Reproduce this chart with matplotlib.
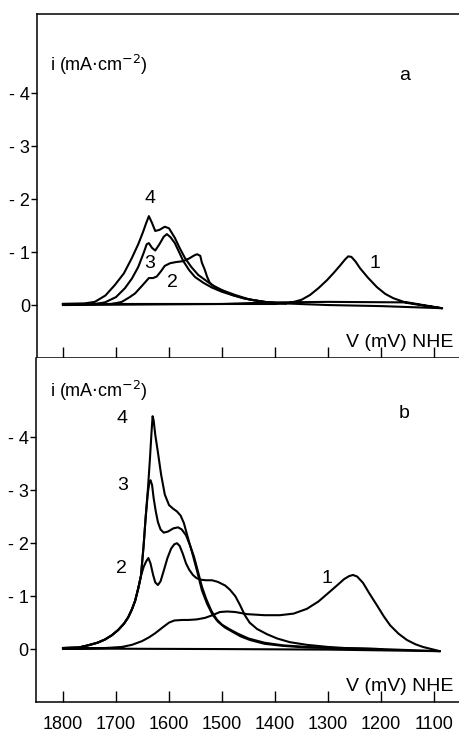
import matplotlib
matplotlib.use('Agg')
import matplotlib.pyplot as plt

# ---- panel a : current densities (mA/cm2, cathodic = negative) vs potential (mV NHE)
a1_v = [1800, 1600, 1400, 1372, 1350, 1334, 1318, 1302, 1290, 1277, 1268, 1262, 1256, 1248,
        1240, 1225, 1208, 1192, 1177, 1160, 1151, 1120, 1085,
        1150, 1300, 1400, 1500, 1800]
a1_i = [-0.02, -0.02, -0.02, -0.04, -0.10, -0.19, -0.32, -0.47, -0.60, -0.75, -0.86, -0.92, -0.91, -0.82,
        -0.70, -0.52, -0.34, -0.21, -0.13, -0.07, -0.04, 0.01, 0.06,
        -0.05, -0.06, -0.05, -0.02, 0.0]

a2_v = [1800, 1710, 1698, 1689, 1674, 1664, 1653, 1645, 1638, 1630, 1623, 1615, 1608, 1598,
        1588, 1573, 1562, 1552, 1547, 1541, 1538, 1533, 1528, 1523, 1515, 1500, 1475, 1450,
        1420, 1400, 1380, 1300, 1200, 1085]
a2_i = [-0.02, -0.02, -0.04, -0.06, -0.15, -0.22, -0.34, -0.43, -0.51, -0.51, -0.54, -0.64, -0.74, -0.79,
        -0.81, -0.83, -0.88, -0.94, -0.96, -0.93, -0.80, -0.68, -0.53, -0.42, -0.35, -0.28, -0.19, -0.11,
        -0.06, -0.04, -0.03, 0.0, 0.02, 0.06]

a3_v = [1800, 1740, 1721, 1700, 1683, 1670, 1658, 1648, 1642, 1638, 1632, 1626, 1618, 1610,
        1604, 1597, 1589, 1580, 1573, 1562, 1551, 1535, 1519, 1500, 1481, 1460, 1440, 1420,
        1400, 1380]
a3_i = [-0.02, -0.02, -0.05, -0.15, -0.32, -0.50, -0.72, -0.98, -1.15, -1.17, -1.08, -1.03, -1.15, -1.29,
        -1.34, -1.28, -1.17, -0.98, -0.83, -0.66, -0.53, -0.42, -0.33, -0.25, -0.19, -0.13, -0.09, -0.06,
        -0.04, -0.03]

a4_v = [1800, 1760, 1740, 1720, 1702, 1685, 1670, 1658, 1649, 1643, 1638, 1632, 1626, 1618,
        1608, 1600, 1589, 1580, 1570, 1558, 1545, 1530, 1519, 1500, 1481, 1460, 1440, 1420,
        1400, 1380]
a4_i = [-0.02, -0.03, -0.06, -0.18, -0.38, -0.60, -0.89, -1.15, -1.38, -1.55, -1.68, -1.55, -1.40, -1.42,
        -1.48, -1.45, -1.27, -1.08, -0.89, -0.72, -0.57, -0.46, -0.38, -0.28, -0.19, -0.13, -0.09, -0.06,
        -0.04, -0.03]

# ---- panel b
b1_v = [1800, 1720, 1689, 1670, 1651, 1638, 1626, 1612, 1600, 1590, 1575, 1564, 1548, 1532,
        1518, 1504, 1490, 1475, 1453, 1420, 1391, 1365, 1340, 1318, 1296, 1280, 1270, 1260,
        1253, 1245, 1234, 1222, 1208, 1195, 1183, 1167, 1151, 1135, 1121, 1105, 1089,
        1300, 1500, 1800]
b1_i = [-0.01, -0.02, -0.04, -0.08, -0.15, -0.22, -0.30, -0.41, -0.50, -0.54, -0.55, -0.55, -0.56, -0.59,
        -0.64, -0.70, -0.71, -0.70, -0.66, -0.64, -0.64, -0.67, -0.76, -0.90, -1.09, -1.23, -1.32, -1.38,
        -1.40, -1.37, -1.25, -1.05, -0.83, -0.62, -0.45, -0.29, -0.17, -0.09, -0.04, 0.0, 0.04,
        0.01, 0.0, -0.01]

b2_v = [1800, 1770, 1753, 1735, 1721, 1708, 1696, 1685, 1677, 1670, 1664, 1658, 1653, 1648,
        1643, 1639, 1635, 1630, 1626, 1621, 1616, 1610, 1603, 1596, 1590, 1585, 1580, 1574,
        1568, 1562, 1555, 1548, 1540, 1530, 1519, 1508, 1494, 1485, 1475, 1466, 1457, 1448,
        1434, 1415, 1396, 1372, 1340, 1300, 1253, 1200, 1089]
b2_i = [-0.02, -0.03, -0.07, -0.12, -0.18, -0.26, -0.36, -0.48, -0.60, -0.75, -0.91, -1.15, -1.38, -1.55,
        -1.66, -1.72, -1.62, -1.40, -1.26, -1.21, -1.28, -1.48, -1.72, -1.90, -1.98, -2.00, -1.95, -1.80,
        -1.62, -1.50, -1.40, -1.34, -1.31, -1.30, -1.30, -1.27, -1.20, -1.12, -1.00, -0.83, -0.64, -0.50,
        -0.38, -0.28, -0.20, -0.13, -0.08, -0.04, -0.01, 0.0, 0.04]

b3_v = [1800, 1770, 1753, 1735, 1721, 1708, 1696, 1685, 1677, 1670, 1664, 1658, 1653, 1648,
        1644, 1640, 1637, 1635, 1632, 1629, 1625, 1621, 1616, 1610, 1602, 1592, 1583, 1576,
        1568, 1560, 1553, 1545, 1538, 1530, 1520, 1510, 1500, 1485, 1470, 1450, 1420, 1385,
        1340, 1290, 1200]
b3_i = [-0.02, -0.03, -0.07, -0.12, -0.18, -0.26, -0.36, -0.48, -0.60, -0.75, -0.91, -1.15, -1.38, -1.95,
        -2.50, -2.95, -3.15, -3.19, -3.10, -2.85, -2.60, -2.40, -2.26, -2.20, -2.22, -2.28, -2.30, -2.26,
        -2.15, -1.95, -1.75, -1.45, -1.18, -0.95, -0.72, -0.56, -0.46, -0.37, -0.29, -0.20, -0.12, -0.07,
        -0.04, -0.02, 0.0]

b4_v = [1800, 1770, 1753, 1735, 1721, 1708, 1696, 1685, 1677, 1670, 1664, 1658, 1653, 1648,
        1644, 1640, 1636, 1633, 1631, 1629, 1626, 1621, 1615, 1608, 1600, 1592, 1585, 1578,
        1572, 1564, 1555, 1547, 1538, 1528, 1518, 1508, 1495, 1481, 1465, 1447, 1420, 1385,
        1340, 1290, 1200]
b4_i = [-0.02, -0.03, -0.07, -0.12, -0.18, -0.26, -0.36, -0.48, -0.60, -0.75, -0.91, -1.15, -1.38, -1.95,
        -2.50, -3.00, -3.60, -4.10, -4.40, -4.32, -4.05, -3.72, -3.30, -2.92, -2.72, -2.65, -2.60, -2.52,
        -2.38, -2.09, -1.77, -1.47, -1.11, -0.85, -0.65, -0.52, -0.41, -0.33, -0.24, -0.17, -0.10, -0.06,
        -0.03, -0.02, 0.0]

x_ticks = [1800, 1700, 1600, 1500, 1400, 1300, 1200, 1100]
y_ticks = [0, -1, -2, -3, -4]
y_ticklabels = ['0', '- 1', '- 2', '- 3', '- 4']

plt.rcParams['font.family'] = ['Liberation Sans', 'DejaVu Sans']

fig = plt.figure(figsize=(4.59, 7.34), dpi=100)
ax_a = fig.add_axes([0.0806, 0.5123, 0.9194, 0.4687])
ax_b = fig.add_axes([0.0778, 0.0436, 0.9222, 0.4687])

panels = [
    (ax_a, 'a', 1849, [(a1_v, a1_i), (a2_v, a2_i), (a3_v, a3_i), (a4_v, a4_i)],
     {'4': (1636, -2.02), '3': (1636, -0.79), '2': (1594, -0.42), '1': (1211, -0.79)},
     -4.53, -4.34),
    (ax_b, 'b', 1851.5, [(b1_v, b1_i), (b2_v, b2_i), (b3_v, b3_i), (b4_v, b4_i)],
     {'4': (1689, -4.36), '3': (1687, -3.09), '2': (1689, -1.53), '1': (1302, -1.34)},
     -4.87, -4.45),
]

for ax, letter, x_left, curves, labels, ylab_y, letter_y in panels:
    for v, i in curves:
        ax.plot(v, i, color='black', lw=1.5, solid_joinstyle='round')
    ax.set_xlim(x_left, 1053)
    ax.set_ylim(1.0, -5.5)
    ax.set_xticks(x_ticks)
    ax.set_yticks(y_ticks)
    ax.set_yticklabels(y_ticklabels)
    ax.tick_params(axis='x', direction='in', length=8, width=1.0, labelsize=13, pad=10)
    ax.tick_params(axis='y', direction='out', length=4, width=1.0, labelsize=13, pad=1)
    ax.spines['right'].set_visible(False)
    for s in ax.spines.values():
        s.set_linewidth(1.1)
    for txt, (x, y) in labels.items():
        ax.text(x, y, txt, fontsize=14, ha='center', va='center')
    ax.text(1824, ylab_y, 'i (mA$\\cdot$cm$^{-2}$)', fontsize=13, ha='left', va='center')
    ax.text(1156, letter_y, letter, fontsize=14, ha='center', va='center')
    ax.text(1064, 0.7, 'V (mV) NHE', fontsize=14, ha='right', va='center')

ax_a.tick_params(axis='x', labelbottom=False)
ax_b.spines['top'].set_visible(False)

fig.savefig('out.png', dpi=100)
